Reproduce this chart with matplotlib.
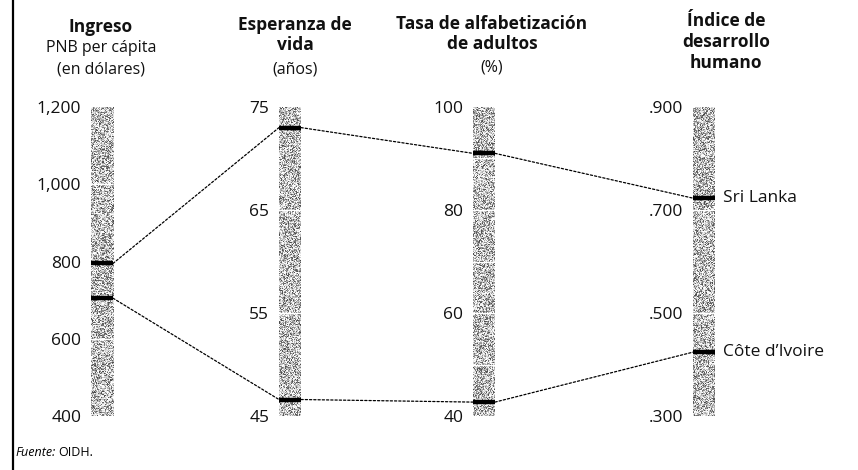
import numpy as np
import matplotlib
matplotlib.use("Agg")
import matplotlib.pyplot as plt
from matplotlib.patches import ConnectionPatch
from matplotlib.lines import Line2D

plt.rcParams['font.family'] = ['Open Sans', 'DejaVu Sans']

# ---- data (Sri Lanka, Côte d'Ivoire) ----
paises = ["Sri Lanka", "Côte d\u2019Ivoire"]
ingreso = [795, 705]
esperanza = [73.0, 46.6]
alfabetizacion = [91.0, 42.7]
idh = [0.723, 0.424]

ingreso_ticks = [400, 600, 800, 1000, 1200]
ingreso_labels = ["400", "600", "800", "1,000", "1,200"]
esperanza_ticks = [45, 55, 65, 75]
alfa_ticks = [40, 60, 80, 100]
idh_ticks = [0.3, 0.5, 0.7, 0.9]
idh_labels = [".300", ".500", ".700", ".900"]

W, H = 858, 470
fig = plt.figure(figsize=(W / 100, H / 100), dpi=100)

def fx(px):
    return px / W

def fy(py):
    return 1 - py / H

bar_top, bar_bot = 107, 416
bar_w = 22

columns = [
    dict(x=91, vals=ingreso, lim=(400, 1200), ticks=ingreso_ticks, labels=ingreso_labels,
         div=[600, 800, 1000]),
    dict(x=279, vals=esperanza, lim=(45, 75), ticks=esperanza_ticks,
         labels=[str(t) for t in esperanza_ticks], div=[55, 65]),
    dict(x=473, vals=alfabetizacion, lim=(40, 100), ticks=alfa_ticks,
         labels=[str(t) for t in alfa_ticks], div=[50, 60, 70, 80, 90]),
    dict(x=693, vals=idh, lim=(0.3, 0.9), ticks=idh_ticks, labels=idh_labels,
         div=[0.5, 0.7]),
]

# stipple texture for the bars (decoration only)
rng = np.random.default_rng(3)
axes = []
for c in columns:
    ax = fig.add_axes([fx(c['x']), fy(bar_bot), fx(bar_w), (bar_bot - bar_top) / H])
    lo, hi = c['lim']
    tex = 1 - 0.72 * rng.random((bar_bot - bar_top, bar_w)) ** 1.6
    ax.imshow(tex, cmap='gray', vmin=0, vmax=1, extent=(0, 1, lo, hi),
              aspect='auto', interpolation='nearest')
    for d in c['div']:
        ax.axhline(d, color='white', lw=1.0)
    for v in c['vals']:
        ax.hlines(v, 0, 1, color='black', lw=3.2)
    ax.set_xlim(0, 1)
    ax.set_ylim(lo, hi)
    ax.set_xticks([])
    ax.set_yticks(c['ticks'])
    ax.set_yticklabels(c['labels'])
    ax.tick_params(axis='y', length=0, pad=7, labelsize=12.5, labelcolor='#111111')
    for s in ax.spines.values():
        s.set_visible(False)
    axes.append(ax)

# dotted connectors between neighbouring bars
for i in range(len(axes) - 1):
    a, b = axes[i], axes[i + 1]
    va = columns[i]['vals']
    vb = columns[i + 1]['vals']
    for k in range(len(paises)):
        con = ConnectionPatch(xyA=(1, va[k]), coordsA=a.transData,
                              xyB=(0, vb[k]), coordsB=b.transData,
                              color='black', lw=0.9, linestyle=(0, (1.8, 1.6)))
        fig.add_artist(con)

# country labels at the last bar
for k, p in enumerate(paises):
    axes[-1].annotate(p, xy=(1, idh[k]), xytext=(6, 0), textcoords='offset points',
                      va='center', ha='left', fontsize=12.5, color='#111111',
                      annotation_clip=False)

# column headers
headers = [
    (101, [("Ingreso", 27, 'bold'), ("PNB per cápita", 48, 'normal'), ("(en dólares)", 69, 'normal')]),
    (295, [("Esperanza de", 25, 'bold'), ("vida", 45, 'bold'), ("(años)", 69, 'normal')]),
    (492, [("Tasa de alfabetización", 24, 'bold'), ("de adultos", 44, 'bold'), ("(%)", 68, 'normal')]),
    (726, [("Índice de", 21, 'bold'), ("desarrollo", 42, 'bold'), ("humano", 63, 'bold')]),
]
for xc, lines in headers:
    for txt, yy, wt in lines:
        fig.text(fx(xc), fy(yy), txt, ha='center', va='center', fontweight=wt,
                 fontsize=12.5 if wt == 'bold' else 11.5, color='#111111')

# left frame rule
fig.add_artist(Line2D([fx(13), fx(13)], [0, 1], color='black', lw=1.6))

fig.text(fx(15), fy(452), "Fuente:", style='italic', fontsize=9, ha='left', va='center')
fig.text(fx(58), fy(452), "OIDH.", fontsize=9, ha='left', va='center')

fig.savefig("out.png", dpi=100)
